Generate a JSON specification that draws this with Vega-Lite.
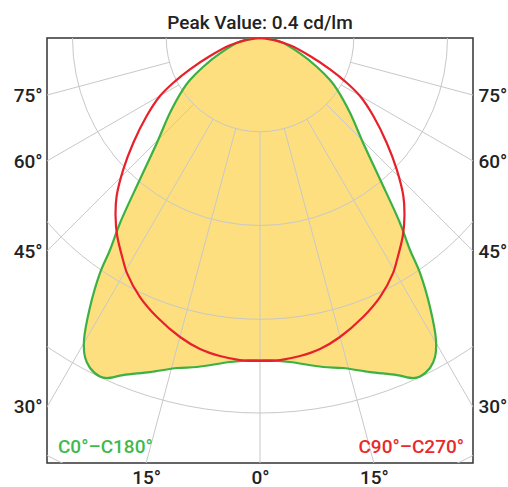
{
  "$schema": "https://vega.github.io/schema/vega-lite/v6.json",
  "width": 426,
  "height": 425,
  "autosize": {"type": "none"},
  "padding": {"left": 47, "top": 38, "right": 35, "bottom": 24},
  "background": "white",
  "config": {
    "view": {"stroke": "#333333", "strokeWidth": 1.5},
    "font": "Roboto",
    "axis": {"grid": false, "domain": false, "ticks": false, "title": null, "labelFontSize": 19, "labelFont": "Roboto", "labelFontWeight": 500, "labelColor": "#222222", "labelFlush": false, "labelOverlap": false, "labelBound": false}
  },
  "title": {"text": "Peak Value: 0.4 cd/lm", "fontSize": 19, "fontWeight": 500, "font": "Roboto", "color": "#222222", "offset": 5},
  "datasets": {
    "green": [
      {"i":0,"x":0,"y":0},{"i":1,"x":0.0213,"y":-0.0037},{"i":2,"x":0.0427,"y":-0.0165},{"i":3,"x":0.0608,"y":-0.0309},
      {"i":4,"x":0.0747,"y":-0.0448},{"i":5,"x":0.0821,"y":-0.0547},{"i":6,"x":0.0960,"y":-0.0797},{"i":7,"x":0.1099,"y":-0.1117},
      {"i":8,"x":0.1280,"y":-0.1507},{"i":9,"x":0.1493,"y":-0.1973},{"i":10,"x":0.1600,"y":-0.2261},{"i":11,"x":0.1707,"y":-0.2507},
      {"i":12,"x":0.1813,"y":-0.2869},{"i":13,"x":0.1877,"y":-0.3221},{"i":14,"x":0.1867,"y":-0.3403},{"i":15,"x":0.1813,"y":-0.3520},
      {"i":16,"x":0.1707,"y":-0.3611},{"i":17,"x":0.1632,"y":-0.3627},{"i":18,"x":0.1461,"y":-0.3595},{"i":19,"x":0.1173,"y":-0.3563},
      {"i":20,"x":0.0885,"y":-0.3520},{"i":21,"x":0.0672,"y":-0.3509},{"i":22,"x":0.0320,"y":-0.3456},{"i":23,"x":0.0107,"y":-0.3435},
      {"i":24,"x":0,"y":-0.3435},
      {"i":25,"x":-0.0107,"y":-0.3435},{"i":26,"x":-0.0320,"y":-0.3456},{"i":27,"x":-0.0672,"y":-0.3509},{"i":28,"x":-0.0885,"y":-0.3520},
      {"i":29,"x":-0.1173,"y":-0.3563},{"i":30,"x":-0.1461,"y":-0.3595},{"i":31,"x":-0.1632,"y":-0.3627},{"i":32,"x":-0.1707,"y":-0.3611},
      {"i":33,"x":-0.1813,"y":-0.3520},{"i":34,"x":-0.1867,"y":-0.3403},{"i":35,"x":-0.1877,"y":-0.3221},{"i":36,"x":-0.1813,"y":-0.2869},
      {"i":37,"x":-0.1707,"y":-0.2507},{"i":38,"x":-0.1600,"y":-0.2261},{"i":39,"x":-0.1493,"y":-0.1973},{"i":40,"x":-0.1280,"y":-0.1507},
      {"i":41,"x":-0.1099,"y":-0.1117},{"i":42,"x":-0.0960,"y":-0.0797},{"i":43,"x":-0.0821,"y":-0.0547},{"i":44,"x":-0.0747,"y":-0.0448},
      {"i":45,"x":-0.0608,"y":-0.0309},{"i":46,"x":-0.0427,"y":-0.0165},{"i":47,"x":-0.0213,"y":-0.0037},{"i":48,"x":0,"y":0}
    ],
    "red": [
      {"i":0,"x":0,"y":0},{"i":1,"x":0.0160,"y":-0.0025},{"i":2,"x":0.0320,"y":-0.0078},{"i":3,"x":0.0533,"y":-0.0192},
      {"i":4,"x":0.0747,"y":-0.0334},{"i":5,"x":0.0907,"y":-0.0462},{"i":6,"x":0.1067,"y":-0.0619},{"i":7,"x":0.1209,"y":-0.0832},
      {"i":8,"x":0.1351,"y":-0.1117},{"i":9,"x":0.1458,"y":-0.1401},{"i":10,"x":0.1529,"y":-0.1685},{"i":11,"x":0.1541,"y":-0.1888},
      {"i":12,"x":0.1525,"y":-0.2101},{"i":13,"x":0.1461,"y":-0.2368},{"i":14,"x":0.1419,"y":-0.2507},{"i":15,"x":0.1280,"y":-0.2763},
      {"i":16,"x":0.1099,"y":-0.2976},{"i":17,"x":0.0853,"y":-0.3189},{"i":18,"x":0.0640,"y":-0.3317},{"i":19,"x":0.0427,"y":-0.3392},
      {"i":20,"x":0.0213,"y":-0.3435},{"i":21,"x":0,"y":-0.3445},
      {"i":22,"x":-0.0213,"y":-0.3435},{"i":23,"x":-0.0427,"y":-0.3392},{"i":24,"x":-0.0640,"y":-0.3317},{"i":25,"x":-0.0853,"y":-0.3189},
      {"i":26,"x":-0.1099,"y":-0.2976},{"i":27,"x":-0.1280,"y":-0.2763},{"i":28,"x":-0.1419,"y":-0.2507},{"i":29,"x":-0.1461,"y":-0.2368},
      {"i":30,"x":-0.1525,"y":-0.2101},{"i":31,"x":-0.1541,"y":-0.1888},{"i":32,"x":-0.1529,"y":-0.1685},{"i":33,"x":-0.1458,"y":-0.1401},
      {"i":34,"x":-0.1351,"y":-0.1117},{"i":35,"x":-0.1209,"y":-0.0832},{"i":36,"x":-0.1067,"y":-0.0619},{"i":37,"x":-0.0907,"y":-0.0462},
      {"i":38,"x":-0.0747,"y":-0.0334},{"i":39,"x":-0.0533,"y":-0.0192},{"i":40,"x":-0.0320,"y":-0.0078},{"i":41,"x":-0.0160,"y":-0.0025},
      {"i":42,"x":0,"y":0}
    ],
    "rings": [{"r":0.1},{"r":0.2},{"r":0.3},{"r":0.4},{"r":0.5}],
    "rays": [
      {"x":0,"y":-0.1,"x2":0,"y2":-0.6},
      {"x":0.0259,"y":-0.0966,"x2":0.1553,"y2":-0.5796},
      {"x":-0.0259,"y":-0.0966,"x2":-0.1553,"y2":-0.5796},
      {"x":0.05,"y":-0.0866,"x2":0.3,"y2":-0.5196},
      {"x":-0.05,"y":-0.0866,"x2":-0.3,"y2":-0.5196},
      {"x":0.0707,"y":-0.0707,"x2":0.4243,"y2":-0.4243},
      {"x":-0.0707,"y":-0.0707,"x2":-0.4243,"y2":-0.4243},
      {"x":0.0866,"y":-0.05,"x2":0.5196,"y2":-0.3},
      {"x":-0.0866,"y":-0.05,"x2":-0.5196,"y2":-0.3},
      {"x":0.0966,"y":-0.0259,"x2":0.5796,"y2":-0.1553},
      {"x":-0.0966,"y":-0.0259,"x2":-0.5796,"y2":-0.1553}
    ]
  },
  "layer": [
    {
      "data": {"name": "green"},
      "mark": {"type": "line", "interpolate": "catmull-rom", "fill": "#fddf80", "strokeOpacity": 0, "clip": true},
      "encoding": {
        "x": {"field": "x", "type": "quantitative", "scale": {"domain": [-0.2272, 0.2272], "nice": false, "zero": false},
              "axis": {"orient": "bottom", "values": [-0.1215, 0, 0.1215], "labelExpr": "datum.value == 0 ? '0°' : '15°'", "labelPadding": 5}},
        "y": {"field": "y", "type": "quantitative", "scale": {"domain": [-0.4533, 0], "nice": false, "zero": false},
              "axis": {"orient": "left", "values": [-0.0609, -0.1312, -0.2272, -0.3935], "labelExpr": "datum.value > -0.1 ? '75°' : datum.value > -0.18 ? '60°' : datum.value > -0.3 ? '45°' : '30°'", "labelPadding": 5}},
        "order": {"field": "i", "type": "quantitative"}
      }
    },
    {
      "data": {"name": "rings"},
      "mark": {"type": "arc", "filled": false, "stroke": "#c8c8c8", "strokeWidth": 1, "theta": 0, "theta2": 6.2832, "clip": true},
      "encoding": {
        "x": {"datum": 0, "type": "quantitative"},
        "y": {"datum": 0, "type": "quantitative", "axis": null},
        "radius": {"field": "r", "type": "quantitative", "stack": null, "scale": {"type": "linear", "domain": [0, 0.5], "range": [0, 468.75], "zero": true}}
      }
    },
    {
      "data": {"name": "rays"},
      "mark": {"type": "rule", "stroke": "#c8c8c8", "strokeWidth": 1, "clip": true},
      "encoding": {
        "x": {"field": "x", "type": "quantitative"},
        "y": {"field": "y", "type": "quantitative", "axis": null},
        "x2": {"field": "x2"},
        "y2": {"field": "y2"}
      }
    },
    {
      "data": {"name": "green"},
      "mark": {"type": "line", "interpolate": "catmull-rom", "stroke": "#3bb143", "strokeWidth": 2.2, "clip": true},
      "encoding": {
        "x": {"field": "x", "type": "quantitative"},
        "y": {"field": "y", "type": "quantitative", "axis": null},
        "order": {"field": "i", "type": "quantitative"}
      }
    },
    {
      "data": {"name": "red"},
      "mark": {"type": "line", "interpolate": "catmull-rom", "stroke": "#e8202a", "strokeWidth": 2.2, "clip": true},
      "encoding": {
        "x": {"field": "x", "type": "quantitative"},
        "y": {"field": "y", "type": "quantitative",
              "axis": {"orient": "right", "values": [-0.0609, -0.1312, -0.2272, -0.3935], "labelExpr": "datum.value > -0.1 ? '75°' : datum.value > -0.18 ? '60°' : datum.value > -0.3 ? '45°' : '30°'", "labelPadding": 5}},
        "order": {"field": "i", "type": "quantitative"}
      }
    },
    {
      "data": {"values": [{"label": "C0°–C180°"}]},
      "mark": {"type": "text", "align": "left", "baseline": "alphabetic", "fontSize": 19, "font": "Roboto", "fontWeight": 500, "color": "#3dba4e"},
      "encoding": {
        "x": {"datum": -0.2155, "type": "quantitative"},
        "y": {"datum": -0.443, "type": "quantitative", "axis": null},
        "text": {"field": "label"}
      }
    },
    {
      "data": {"values": [{"label": "C90°–C270°"}]},
      "mark": {"type": "text", "align": "right", "baseline": "alphabetic", "fontSize": 19, "font": "Roboto", "fontWeight": 500, "color": "#e82a2a"},
      "encoding": {
        "x": {"datum": 0.2176, "type": "quantitative"},
        "y": {"datum": -0.443, "type": "quantitative", "axis": null},
        "text": {"field": "label"}
      }
    }
  ],
  "resolve": {"axis": {"y": "independent"}}
}
